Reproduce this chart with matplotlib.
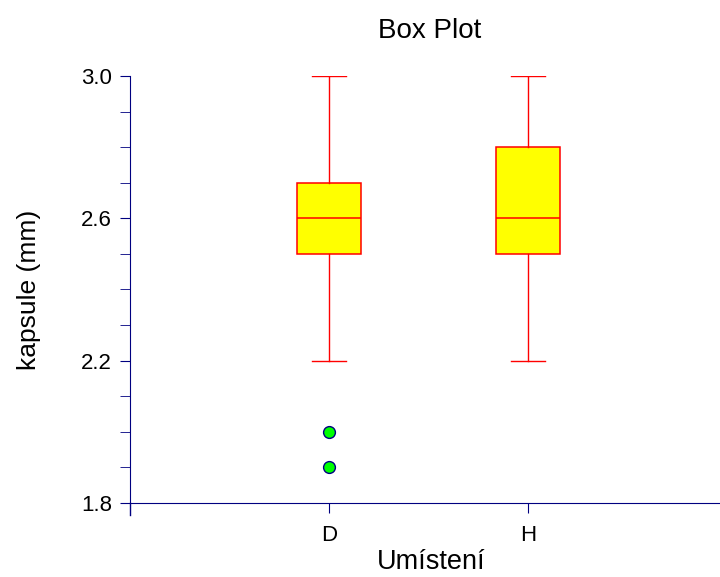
import matplotlib.pyplot as plt
from matplotlib.ticker import FixedLocator

plt.rcParams['font.family'] = ['Liberation Sans', 'DejaVu Sans']

groups = ["D", "H"]
whisker_low = [2.2, 2.2]
q1 = [2.5, 2.5]
medians = [2.6, 2.6]
q3 = [2.7, 2.8]
whisker_high = [3.0, 3.0]
outliers = [[2.0, 1.9], []]
y_major = [1.8, 2.2, 2.6, 3.0]
y_minor = [1.9, 2.0, 2.1, 2.3, 2.4, 2.5, 2.7, 2.8, 2.9]

stats = []
for i, g in enumerate(groups):
    stats.append({"label": g, "whislo": whisker_low[i], "q1": q1[i], "med": medians[i],
                  "q3": q3[i], "whishi": whisker_high[i], "fliers": outliers[i]})

navy = "#000080"
fig = plt.figure(figsize=(7.2, 5.77), dpi=100)
ax = fig.add_axes([130 / 720, 1 - 503 / 577, 590 / 720, 427 / 577])

ax.bxp(stats, positions=[1, 2], widths=0.32, patch_artist=True,
       boxprops=dict(facecolor="#ffff00", edgecolor="#ff0000", linewidth=1.1),
       medianprops=dict(color="#ff0000", linewidth=1.1),
       whiskerprops=dict(color="#ff0000", linewidth=1),
       capprops=dict(color="#ff0000", linewidth=1),
       capwidths=0.17,
       flierprops=dict(marker="o", markerfacecolor="#00ff00", markeredgecolor=navy,
                       markersize=8.5, markeredgewidth=1))

ax.set_xlim(0, 2.965)
ax.set_ylim(1.8, 3.0)
ax.yaxis.set_major_locator(FixedLocator(y_major))
ax.yaxis.set_minor_locator(FixedLocator(y_minor))
ax.yaxis.set_major_formatter(plt.FormatStrFormatter("%.1f"))

for s in ["top", "right"]:
    ax.spines[s].set_visible(False)
for s in ["left", "bottom"]:
    ax.spines[s].set_color(navy)
ax.plot([0, 0], [0, -0.028], transform=ax.transAxes, color=navy, linewidth=1, clip_on=False)

ax.tick_params(axis="both", which="both", direction="out", color=navy, length=7, labelsize=16,
               labelcolor="black")
ax.tick_params(axis="x", pad=9)
ax.tick_params(axis="y", pad=6)

ax.set_title("Box Plot", fontsize=20, pad=27, x=0.508)
ax.set_xlabel("Umístení", fontsize=19.5, labelpad=2, x=0.51)
ax.set_ylabel("kapsule (mm)", fontsize=19, labelpad=29)

fig.savefig("out.png", dpi=100)
